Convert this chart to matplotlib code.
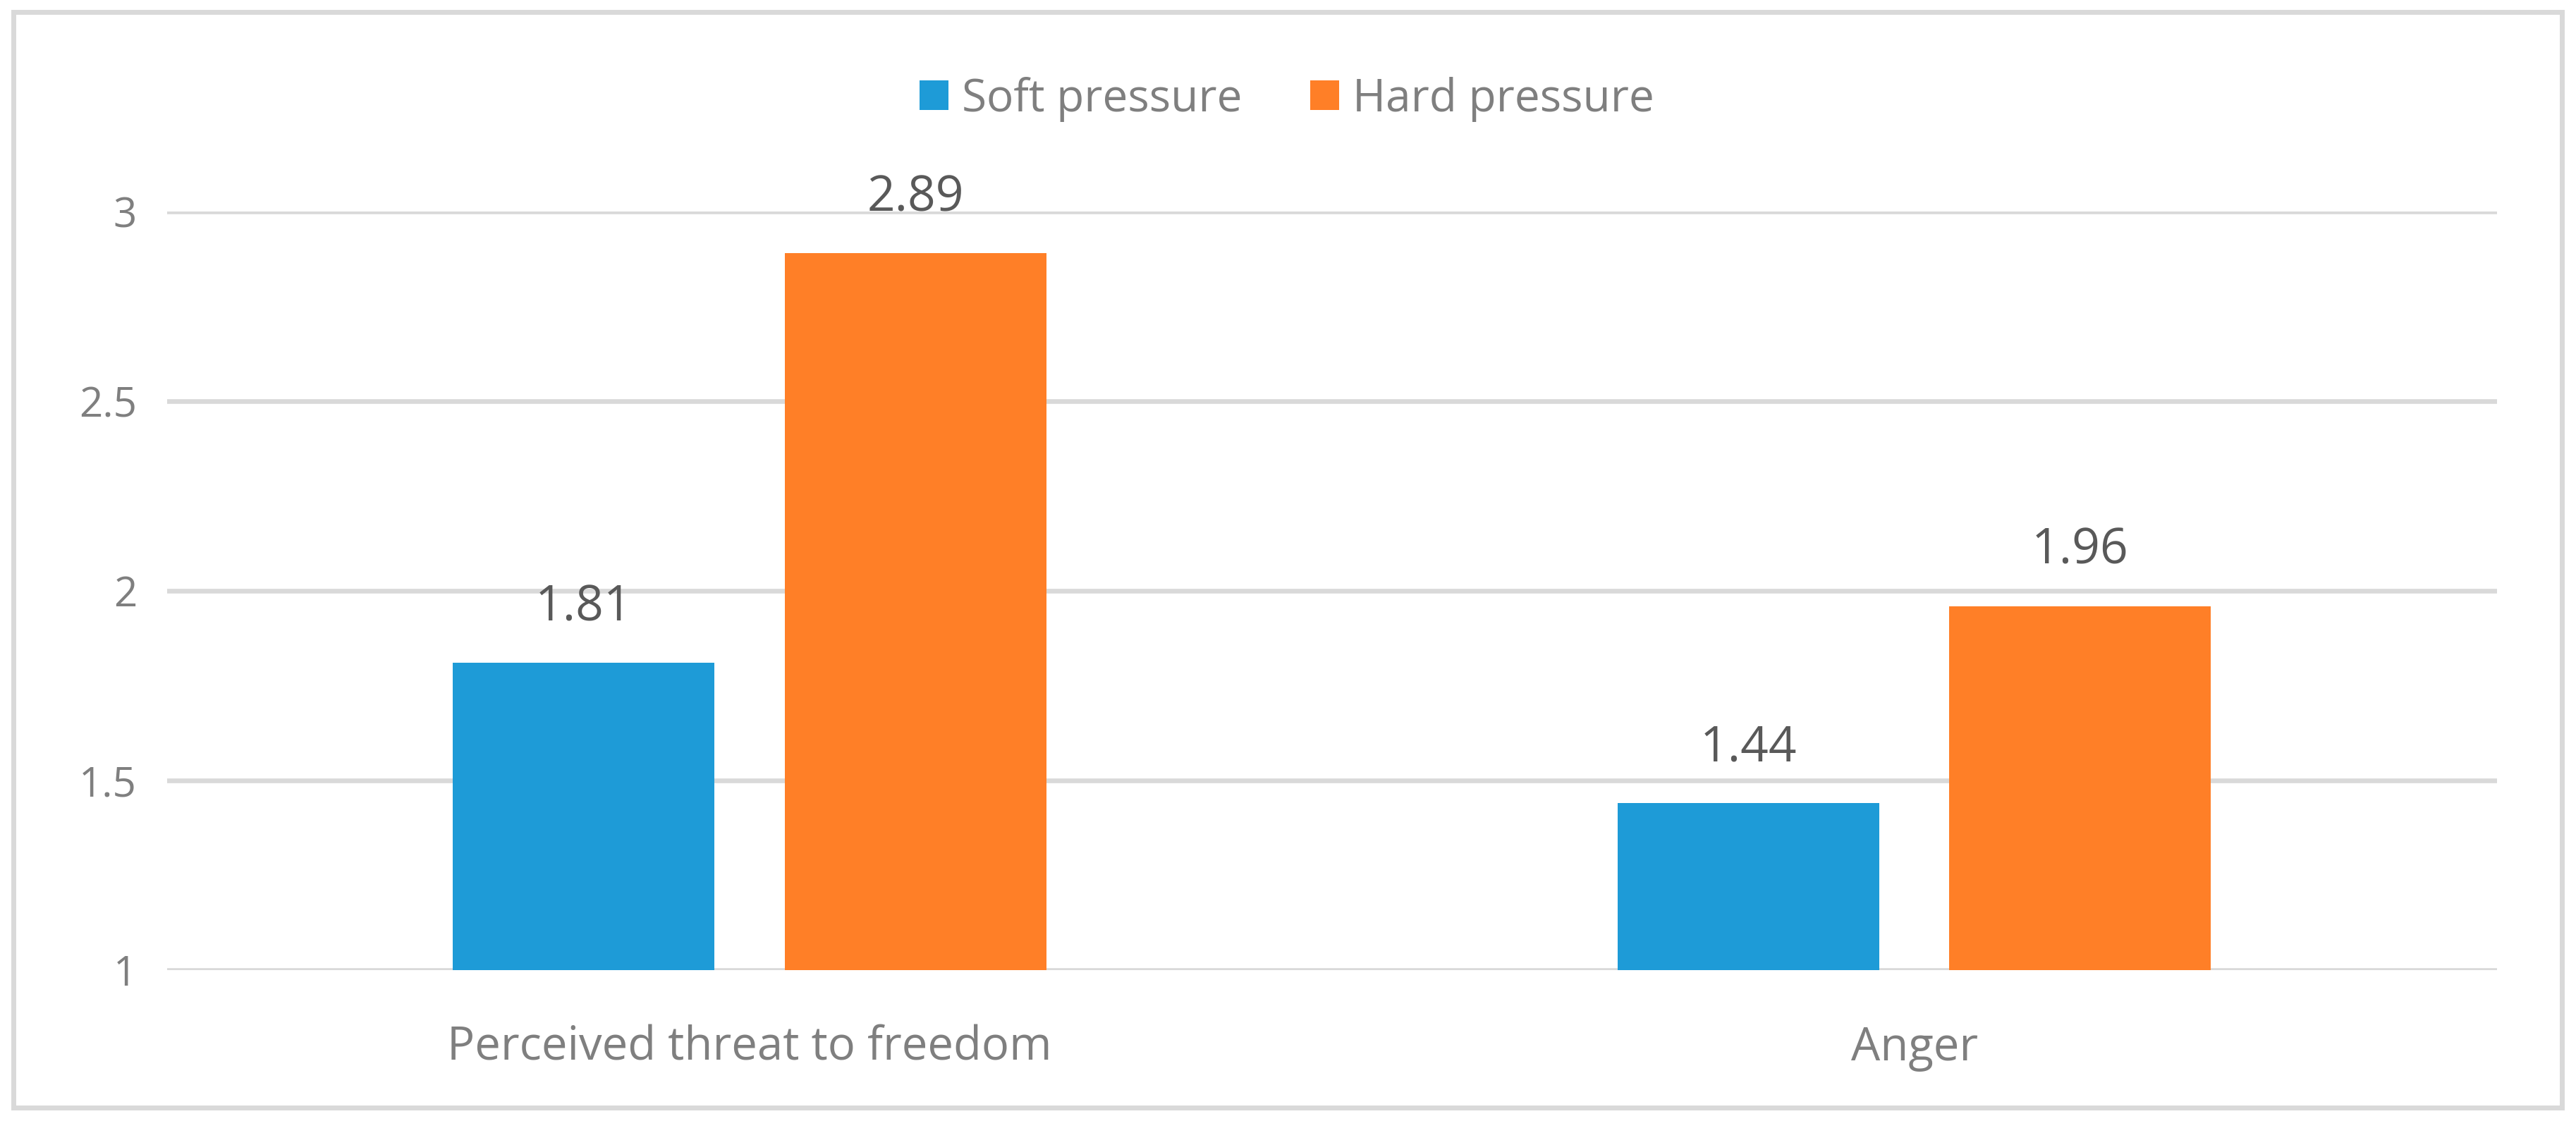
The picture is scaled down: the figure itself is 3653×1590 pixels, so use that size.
import matplotlib
matplotlib.use('Agg')
import matplotlib.pyplot as plt
import numpy as np
from matplotlib.patches import Rectangle

categories = ['Perceived threat to freedom', 'Anger']
series_names = ['Soft pressure', 'Hard pressure']
soft_vals = [1.81, 1.44]
hard_vals = [2.89, 1.96]
yticks = [1, 1.5, 2, 2.5, 3]
ytick_labels = ['1', '1.5', '2', '2.5', '3']

BLUE = '#1E9BD7'
ORANGE = '#FF7F27'
GRID = '#D9D9D9'
TXT = '#7F7F7F'
VAL = '#595959'

plt.rcParams['font.family'] = ['Open Sans', 'DejaVu Sans']

fig = plt.figure(figsize=(36.53, 15.90), dpi=100)
ax = fig.add_axes([0.0649, 0.1346, 0.9693 - 0.0649, 0.8113 - 0.1346])

x = np.arange(len(categories))
w = 0.2246
off = 0.1423
b1 = ax.bar(x - off, np.array(soft_vals) - 1, w, bottom=1, color=BLUE, label=series_names[0], zorder=3)
b2 = ax.bar(x + off, np.array(hard_vals) - 1, w, bottom=1, color=ORANGE, label=series_names[1], zorder=3)

# value labels above the bars
for xs, vals in [(x - off, soft_vals), (x + off, hard_vals)]:
    for xi, v in zip(xs, vals):
        ax.annotate(f'{v:.2f}', (xi, v), xytext=(0, 60), textcoords='offset pixels',
                    ha='center', va='baseline', fontsize=50, color=VAL, annotation_clip=False)

ax.set_xlim(-0.5, 1.5)
ax.set_ylim(1, 3)
ax.set_yticks(yticks)
ax.set_yticklabels(ytick_labels)
ax.set_xticks(x)
ax.set_xticklabels(categories)
ax.tick_params(axis='y', length=0, pad=31, labelsize=42, labelcolor=TXT)
ax.tick_params(axis='x', length=0, pad=56, labelsize=47, labelcolor=TXT)
for s in ax.spines.values():
    s.set_visible(False)
ax.grid(axis='y', color=GRID, linewidth=4.8, zorder=0)
ax.set_axisbelow(True)

fig.legend(handles=[b1, b2], labels=series_names, loc='center', bbox_to_anchor=(0.4996, 0.9116),
           ncol=2, frameon=False, fontsize=46, labelcolor=TXT,
           handlelength=0.64, handleheight=0.64, handletextpad=0.3, columnspacing=1.5)

fig.patches.append(Rectangle((0.0052, 0.012), 0.9893, 0.9773, transform=fig.transFigure,
                             fill=False, edgecolor=GRID, linewidth=5, zorder=10))

fig.savefig('out.png', dpi=100, facecolor='white')
